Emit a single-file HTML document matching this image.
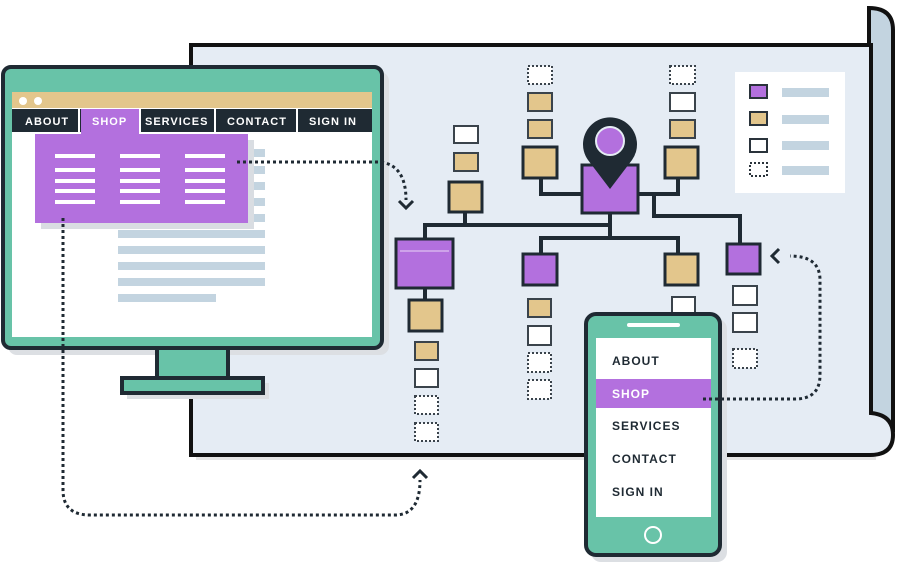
<!DOCTYPE html>
<html><head><meta charset="utf-8"><style>html,body{margin:0;padding:0;background:#fff}svg{display:block}text{font-family:"Liberation Sans",sans-serif;font-weight:bold;letter-spacing:1px}</style></head>
<body>
<svg width="900" height="563" viewBox="0 0 900 563" xmlns="http://www.w3.org/2000/svg">
<path d="M196,50 H876 V460 H196 Z" fill="#e6e6e6"/>
<path d="M869,8 Q893,8 893,30 V430 H869 Z" fill="#c3d4e0" stroke="#111" stroke-width="4"/>
<path d="M191,45 H871 V413 Q893,415 893,435 Q893,455 870,455 H191 Z" fill="#e5ecf4" stroke="#111" stroke-width="4"/>

<rect x="735" y="72" width="110" height="121" fill="#fff"/>
<g stroke="#2a333b" stroke-width="2">
<rect x="750" y="85" width="17" height="13" fill="#b370de"/>
<rect x="750" y="112" width="17" height="13" fill="#e3c68c"/>
<rect x="750" y="139" width="17" height="13" fill="#fff"/>
<rect x="750" y="163" width="17" height="13" fill="#fff" stroke-dasharray="2,2"/>
</g>
<g fill="#c3d4e0"><rect x="782" y="88" width="47" height="9"/><rect x="782" y="115" width="47" height="9"/><rect x="782" y="141" width="47" height="9"/><rect x="782" y="166" width="47" height="9"/></g>

<g stroke="#1f2a33" stroke-width="4" fill="none">
<path d="M541,178 V194 H582"/><path d="M678,178 V194 H638"/>
<path d="M610,213 V238"/><path d="M425,239 V225 H610"/><path d="M465,212 V225"/>
<path d="M541,254 V238 H678 V254"/>
<path d="M654,196 V216 H740 V244"/>
<path d="M425,288 V300"/>
</g>
<g stroke="#1f2a33" stroke-width="3">
<rect x="523" y="147" width="34" height="31" fill="#e3c68c"/>
<rect x="665" y="147" width="33" height="31" fill="#e3c68c"/>
<rect x="449" y="182" width="33" height="30" fill="#e3c68c"/>
<rect x="582" y="165" width="56" height="48" fill="#b370de"/>
<rect x="396" y="239" width="57" height="49" fill="#b370de"/>
<rect x="523" y="254" width="34" height="31" fill="#b370de"/>
<rect x="665" y="254" width="33" height="31" fill="#e3c68c"/>
<rect x="727" y="244" width="33" height="30" fill="#b370de"/>
<rect x="409" y="300" width="33" height="31" fill="#e3c68c"/>
</g>
<line x1="400" y1="251" x2="449" y2="251" stroke="#e8d6f5" stroke-width="1"/>
<g stroke="#3a434b" stroke-width="2">
<rect x="528" y="93" width="24" height="18" fill="#e3c68c"/>
<rect x="528" y="120" width="24" height="18" fill="#e3c68c"/>
<rect x="670" y="93" width="25" height="18" fill="#fff"/>
<rect x="670" y="120" width="25" height="18" fill="#e3c68c"/>
<rect x="454" y="126" width="24" height="17" fill="#fff"/>
<rect x="454" y="153" width="24" height="18" fill="#e3c68c"/>
<rect x="415" y="342" width="23" height="18" fill="#e3c68c"/>
<rect x="415" y="369" width="23" height="18" fill="#fff"/>
<rect x="528" y="299" width="23" height="18" fill="#e3c68c"/>
<rect x="528" y="326" width="23" height="19" fill="#fff"/>
<rect x="672" y="297" width="23" height="18" fill="#fff"/>
<rect x="733" y="286" width="24" height="19" fill="#fff"/>
<rect x="733" y="313" width="24" height="19" fill="#fff"/>
</g>
<g stroke="#3a434b" stroke-width="2" fill="#fff" stroke-dasharray="2,2">
<rect x="528" y="66" width="24" height="18"/><rect x="670" y="66" width="25" height="18"/>
<rect x="415" y="396" width="23" height="18"/><rect x="415" y="423" width="23" height="18"/>
<rect x="528" y="353" width="23" height="19"/><rect x="528" y="380" width="23" height="19"/>
<rect x="733" y="349" width="24" height="19"/>
</g>
<path d="M610,189 L588,160 A27,27 0 1 1 632,160 Z" fill="#1f2a33"/>
<circle cx="610" cy="141" r="14" fill="#b370de" stroke="#e5ecf4" stroke-width="2"/>

<!-- monitor -->
<rect x="8" y="72" width="381" height="283" rx="9" fill="#dcdfe3"/>
<rect x="127" y="383" width="142" height="16" fill="#dcdfe3"/>
<rect x="157" y="347" width="71" height="33" fill="#68c3a8" stroke="#1f2a33" stroke-width="4"/>
<rect x="122" y="378" width="141" height="15" fill="#68c3a8" stroke="#1f2a33" stroke-width="4"/>
<rect x="3" y="67" width="379" height="281" rx="8" fill="#68c3a8" stroke="#1f2a33" stroke-width="4"/>
<rect x="12" y="92" width="360" height="245" fill="#fff"/>
<rect x="12" y="92" width="360" height="16" fill="#e3c68c"/>
<circle cx="23" cy="101" r="4" fill="#fff"/><circle cx="38" cy="101" r="4" fill="#fff"/>
<rect x="12" y="109" width="360" height="23" fill="#1f2a33"/>
<g fill="#fff"><rect x="78" y="109" width="2" height="23"/><rect x="139" y="109" width="2" height="23"/><rect x="214" y="109" width="2" height="23"/><rect x="296" y="109" width="2" height="23"/></g>
<g fill="#c3d4e0">
<rect x="118" y="149" width="147" height="8"/><rect x="118" y="166" width="147" height="8"/><rect x="118" y="182" width="147" height="8"/><rect x="118" y="198" width="147" height="8"/><rect x="118" y="214" width="147" height="8"/><rect x="118" y="230" width="147" height="8"/><rect x="118" y="246" width="147" height="8"/><rect x="118" y="262" width="147" height="8"/><rect x="118" y="278" width="147" height="8"/><rect x="118" y="294" width="98" height="8"/>
</g>
<rect x="41" y="140" width="213" height="89" fill="#d9dde2"/>
<rect x="81" y="109" width="58" height="26" fill="#b370de"/>
<rect x="35" y="134" width="213" height="89" fill="#b370de"/>
<g fill="#fff">
<rect x="55" y="154" width="40" height="4"/><rect x="55" y="168" width="40" height="4"/><rect x="55" y="179" width="40" height="4"/><rect x="55" y="189" width="40" height="4"/><rect x="55" y="200" width="40" height="4"/>
<rect x="120" y="154" width="40" height="4"/><rect x="120" y="168" width="40" height="4"/><rect x="120" y="179" width="40" height="4"/><rect x="120" y="189" width="40" height="4"/><rect x="120" y="200" width="40" height="4"/>
<rect x="185" y="154" width="40" height="4"/><rect x="185" y="168" width="40" height="4"/><rect x="185" y="179" width="40" height="4"/><rect x="185" y="189" width="40" height="4"/><rect x="185" y="200" width="40" height="4"/>
</g>
<g fill="#fff" font-size="11">
<text x="25" y="125">ABOUT</text><text x="92" y="125">SHOP</text><text x="145" y="125">SERVICES</text><text x="227" y="125">CONTACT</text><text x="309" y="125">SIGN IN</text>
</g>

<!-- phone -->
<rect x="591" y="319" width="136" height="243" rx="10" fill="#dcdfe3"/>
<rect x="586" y="314" width="134" height="241" rx="10" fill="#68c3a8" stroke="#1f2a33" stroke-width="4"/>
<rect x="627" y="323" width="53" height="4" rx="2" fill="#fff"/>
<rect x="596" y="338" width="115" height="179" fill="#fff"/>
<rect x="596" y="379" width="115" height="29" fill="#b370de"/>
<g font-size="12" fill="#1f2a33">
<text x="612" y="365">ABOUT</text><text x="612" y="398" fill="#fff">SHOP</text><text x="612" y="430">SERVICES</text><text x="612" y="463">CONTACT</text><text x="612" y="496">SIGN IN</text>
</g>
<circle cx="653" cy="535" r="8" fill="none" stroke="#fff" stroke-width="2"/>

<!-- dotted connectors on top -->
<g stroke="#1f2a33" stroke-width="3" fill="none" stroke-dasharray="3,3">
<path d="M237,162 H380 Q406,165 406,200"/>
<path d="M63,218 V490 Q63,515 90,515 H395 Q420,515 420,480"/>
<path d="M703,399 H795 Q820,399 820,375 V280 Q820,256 790,256"/>
</g>
<g stroke="#1f2a33" stroke-width="3" fill="none">
<path d="M399,201 L406,208 L413,201"/>
<path d="M413,478 L420,471 L427,478"/>
<path d="M779,249 L772,256 L779,263"/>
</g>
</svg>
</body></html>
